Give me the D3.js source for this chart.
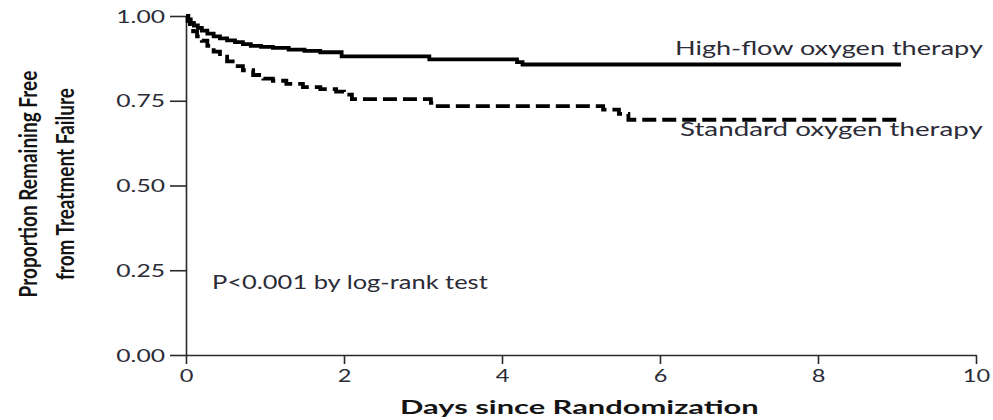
<!DOCTYPE html>
<html>
<head>
<meta charset="utf-8">
<script src="https://cdn.jsdelivr.net/npm/d3@7"></script>
<style>
  html, body { margin: 0; padding: 0; background: #fff; }
  svg { display: block; }
  text { font-family: Lato, "Noto Sans", sans-serif; }
</style>
</head>
<body>
<svg id="chart" width="993" height="420"></svg>
<script>
// Kaplan-Meier estimates: day of follow-up and proportion still free of treatment failure
const highFlowDays = [0, 0.03, 0.06, 0.10, 0.15, 0.20, 0.27, 0.35, 0.43, 0.52, 0.62, 0.72, 0.82, 0.95, 1.10, 1.30, 1.50, 1.70, 1.97, 3.08, 4.19, 4.26, 9.05];
const highFlowSurv = [1.000, 0.990, 0.980, 0.972, 0.965, 0.957, 0.948, 0.940, 0.934, 0.928, 0.923, 0.917, 0.912, 0.909, 0.906, 0.901, 0.897, 0.893, 0.881, 0.872, 0.864, 0.857, 0.857];

const standardDays = [0, 0.02, 0.05, 0.09, 0.14, 0.20, 0.27, 0.35, 0.43, 0.52, 0.62, 0.72, 0.85, 0.98, 1.10, 1.27, 1.48, 1.70, 1.90, 2.00, 2.10, 3.10, 3.15, 5.28, 5.48, 5.60, 9.05];
const standardSurv = [1.000, 0.985, 0.970, 0.955, 0.940, 0.927, 0.912, 0.895, 0.880, 0.866, 0.852, 0.840, 0.826, 0.815, 0.809, 0.800, 0.790, 0.784, 0.777, 0.768, 0.755, 0.744, 0.734, 0.724, 0.711, 0.694, 0.694];

const seriesNames = ["High-flow oxygen therapy", "Standard oxygen therapy"];
const xTickValues = [0, 2, 4, 6, 8, 10];
const yTickValues = [0, 0.25, 0.50, 0.75, 1.00];
const xTitle = "Days since Randomization";
const yTitleLines = ["Proportion Remaining Free", "from Treatment Failure"];
const testNote = "P<0.001 by log-rank test";

const svg = d3.select("#chart");
const ink = "#2a2a2a";
const labelInk = "#2c2c38";

const x = d3.scaleLinear().domain([0, 10]).range([186, 976]);
const y = d3.scaleLinear().domain([0, 1]).range([355, 16]);

// widen a text horizontally so it spans a given width, anchored at (x0, y0)
function spanText(sel, x0, y0, width) {
  const w = sel.node().getComputedTextLength();
  sel.attr("transform", `translate(${x0},${y0}) scale(${width / w},1)`);
}

// x axis
const gx = svg.append("g")
  .attr("transform", `translate(0,${y(0)})`)
  .call(d3.axisBottom(x).tickValues(xTickValues).tickSize(9).tickSizeOuter(0).tickFormat(d3.format("d")));
gx.attr("font-family", null).attr("font-size", null);
gx.select(".domain").attr("stroke", ink).attr("stroke-width", 1.6);
gx.selectAll(".tick line").attr("stroke", ink).attr("stroke-width", 1.6);
gx.selectAll(".tick text")
  .attr("y", null).attr("dy", null)
  .attr("font-size", 17.5).attr("fill", labelInk)
  .attr("transform", "translate(0,27) scale(1.35,1)");

// y axis
const gy = svg.append("g")
  .attr("transform", `translate(${x(0)},0)`)
  .call(d3.axisLeft(y).tickValues(yTickValues).tickSize(16).tickSizeOuter(0).tickFormat(d3.format(".2f")));
gy.attr("font-family", null).attr("font-size", null);
gy.select(".domain").attr("stroke", ink).attr("stroke-width", 1.6);
gy.selectAll(".tick line").attr("stroke", ink).attr("stroke-width", 1.6);
gy.selectAll(".tick text")
  .attr("x", null).attr("dy", null)
  .attr("font-size", 17).attr("fill", labelInk)
  .attr("transform", "translate(-21,6) scale(1.45,1)");

// survival curves
const line = d3.line()
  .x(d => x(d[0]))
  .y(d => y(d[1]))
  .curve(d3.curveStepAfter);

const highFlow = highFlowDays.map((d, i) => [d, highFlowSurv[i]]);
const standard = standardDays.map((d, i) => [d, standardSurv[i]]);

svg.append("path")
  .datum(standard)
  .attr("d", line)
  .attr("fill", "none")
  .attr("stroke", "#000")
  .attr("stroke-width", 3.8)
  .attr("stroke-dasharray", "14,6");

svg.append("path")
  .datum(highFlow)
  .attr("d", line)
  .attr("fill", "none")
  .attr("stroke", "#000")
  .attr("stroke-width", 3.8);

// series labels
const hfLabel = svg.append("text").text(seriesNames[0])
  .attr("font-size", 19).attr("fill", labelInk);
spanText(hfLabel, 675, 55, 308);

const stLabel = svg.append("text").text(seriesNames[1])
  .attr("font-size", 19).attr("fill", labelInk);
spanText(stLabel, 680, 136, 303);

// log-rank note
const note = svg.append("text").text(testNote)
  .attr("font-size", 20).attr("fill", labelInk);
spanText(note, 212, 289, 276);

// axis titles
const xt = svg.append("text").text(xTitle)
  .attr("font-size", 19).attr("font-weight", 700).attr("fill", "#141414");
spanText(xt, 400, 414, 359);

const yTitleSpan = [227, 192];
const yTitleBase = [37, 74];
yTitleLines.forEach((t, i) => {
  const el = svg.append("text").text(t)
    .attr("font-size", 17).attr("font-weight", 700)
    .attr("text-anchor", "middle").attr("fill", "#141414");
  const w = el.node().getComputedTextLength();
  el.attr("transform", `translate(${yTitleBase[i]},184) scale(1.4,${yTitleSpan[i] / w}) rotate(-90)`);
});
</script>
</body>
</html>
